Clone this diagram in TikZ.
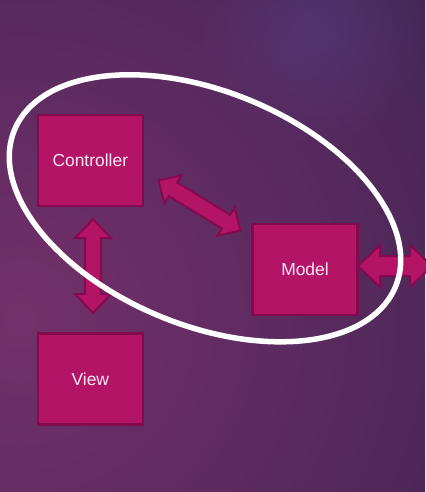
\documentclass[tikz,border=0pt]{standalone}
\usepackage{fontspec}
\setmainfont{Liberation Sans}
\usetikzlibrary{calc,fadings}
\definecolor{bgdark}{RGB}{44,32,74}
\definecolor{bgmid}{RGB}{116,48,106}
\definecolor{glowc}{RGB}{90,60,130}
\definecolor{boxfill}{RGB}{180,20,102}
\definecolor{boxline}{RGB}{132,10,80}
\definecolor{txt}{RGB}{250,232,245}
\tikzfading[name=softglow, inner color=transparent!45, outer color=transparent!100]
\tikzset{
  mvcbox/.style={draw=boxline, fill=boxfill, line width=2.5bp,
    minimum width=105bp, minimum height=91bp, inner sep=0pt,
    text=txt, font=\fontsize{17.5}{20}\selectfont},
  blockarr/.style={draw=boxline, fill=boxfill, line width=2bp, line join=miter},
  ring/.style={draw=white, line width=5.5bp}
}
\newcommand\blockarrow[5]{%
  \filldraw[blockarr] (#1)
   -- ($(#1)!#5!(#2)!#4!90:(#2)$)
   -- ($(#1)!#5!(#2)!#3!90:(#2)$)
   -- ($(#2)!#5!(#1)!#3!-90:(#1)$)
   -- ($(#2)!#5!(#1)!#4!-90:(#1)$)
   -- (#2)
   -- ($(#2)!#5!(#1)!#4!90:(#1)$)
   -- ($(#2)!#5!(#1)!#3!90:(#1)$)
   -- ($(#1)!#5!(#2)!#3!-90:(#2)$)
   -- ($(#1)!#5!(#2)!#4!-90:(#2)$)
   -- cycle;}
\begin{document}
\begin{tikzpicture}[x=1bp,y=-1bp]
\useasboundingbox (0,0) rectangle (425,492);
% background
\begin{scope}
  \clip (0,0) rectangle (425,492);
  \fill[bgdark] (0,0) rectangle (425,492);
  \shade[inner color=bgmid, outer color=bgdark] (20,320) circle (800);
  \fill[glowc, path fading=softglow] (312,32) circle (120);
\end{scope}
% boxes
\node[mvcbox] (ctrl)  at (90.3,160.3) {Controller};
\node[mvcbox] (model) at (305,269.3) {Model};
\node[mvcbox] (view)  at (90.3,379.2) {View};
% arrow end points
\coordinate (cvA) at (93,219);
\coordinate (cvB) at (93,313);
\coordinate (cmA) at (158.5,180.5);
\coordinate (cmB) at (240.5,230.5);
\coordinate (mxA) at (358,266);
\coordinate (mxB) at (432,266);
\blockarrow{cvA}{cvB}{8bp}{18bp}{19bp}
\blockarrow{cmA}{cmB}{8bp}{16.5bp}{17bp}
\blockarrow{mxA}{mxB}{10bp}{21bp}{22bp}
% ellipse
\draw[ring, rotate around={-22.3:(205,208.3)}] (205,208.3) ellipse [x radius=206, y radius=117];
\end{tikzpicture}
\end{document}
